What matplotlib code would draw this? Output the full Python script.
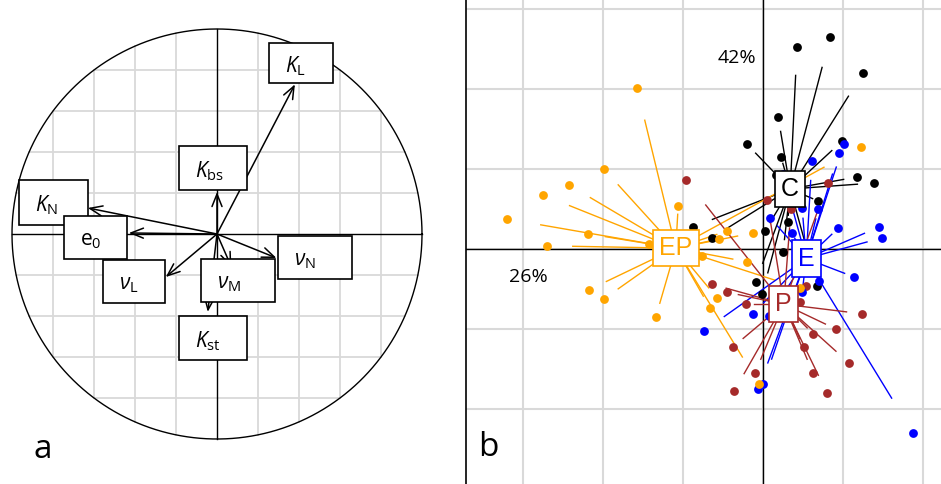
import matplotlib.pyplot as plt
import numpy as np
from matplotlib.patches import Rectangle

plt.rcParams['font.family'] = ['Open Sans', 'DejaVu Sans']
plt.rcParams['mathtext.fontset'] = 'custom'
plt.rcParams['mathtext.rm'] = 'Open Sans'
plt.rcParams['mathtext.it'] = 'Open Sans:italic'

# --- panel a: correlation circle ---
var_labels = [r'$K_\mathrm{L}$', r'$K_\mathrm{bs}$', r'$K_\mathrm{N}$', r'$\mathrm{e}_0$',
              r'$\nu_\mathrm{L}$', r'$\nu_\mathrm{N}$', r'$\nu_\mathrm{M}$', r'$K_\mathrm{st}$']
var_x = [0.38, 0.0, -0.63, -0.43, -0.25, 0.29, 0.07, -0.045]
var_y = [0.73, 0.205, 0.127, 0.005, -0.21, -0.117, -0.16, -0.38]

# label boxes (centre, size in px)
lab_x = [0.410, -0.020, -0.798, -0.593, -0.405, 0.478, 0.102, -0.020]
lab_y = [0.834, 0.322, 0.154, -0.017, -0.232, -0.115, -0.227, -0.507]
box_w = [64, 68, 69, 63, 62, 74, 74, 68]
box_h = [40, 44, 45, 43, 43, 43, 43, 44]

# --- panel b: factorial map with class stars ---
groups = ['C', 'EP', 'E', 'P']
group_cols = ['black', 'orange', 'blue', 'brown']
centre_x = [0.34, -1.09, 0.54, 0.26]
centre_y = [0.75, 0.01, -0.12, -0.69]

c_x = [0.425, 0.838, 1.25, 0.19, -0.2, 0.225, 0.99, 1.175, 1.39, 0.16,
       0.69, 0.31, 0.025, -0.875, -0.64, 0.25, -0.09, -0.01, 0.675]
c_y = [2.525, 2.65, 2.2, 1.65, 1.31, 1.15, 1.35, 0.9, 0.825, 0.925,
       0.6, 0.34, 0.225, 0.275, 0.14, -0.04, -0.41, -0.56, -0.46]
ep_x = [-1.575, -1.99, -2.425, -2.75, -3.2, -2.19, -2.7, -1.425, -2.175, -1.99, -1.34,
        -1.06, -0.55, -0.45, -0.125, 1.225, -0.76, -0.2, -0.575, -0.66, 0.46, -0.05]
ep_y = [2.01, 1.0, 0.8, 0.675, 0.375, 0.19, 0.04, 0.06, -0.51, -0.625, -0.85,
        0.54, 0.125, 0.225, 0.2, 1.275, -0.09, -0.16, -0.61, -0.74, -0.49, -1.69]
e_x = [1.01, 0.95, 0.61, 0.25, 0.09, 0.49, 0.69, 0.94, 1.45, 1.49,
       0.36, 1.14, 0.7, -0.125, -0.74, 0.49, 0.075, -0.06, 0.0, 1.875]
e_y = [1.31, 1.2, 1.1, 0.94, 0.39, 0.51, 0.5, 0.26, 0.275, 0.14,
       0.2, -0.35, -0.4, -0.81, -1.025, -0.54, -0.84, -1.75, -1.69, -2.3]
p_x = [-0.96, 0.81, 0.05, 0.35, -0.64, -0.45, -0.21, 0.54, 0.46, 1.24,
       0.91, 0.625, 0.51, -0.375, 1.075, 0.625, -0.1, -0.36, 0.8]
p_y = [0.86, 0.825, 0.61, 0.5, -0.44, -0.54, -0.69, -0.46, -0.66, -0.81,
       -1.0, -1.06, -1.225, -1.225, -1.425, -1.55, -1.55, -1.775, -1.8]

pts_x = [c_x, ep_x, e_x, p_x]
pts_y = [c_y, ep_y, e_y, p_y]
cstar = 0.8

fig = plt.figure(figsize=(9.41, 4.84), dpi=100)

# panel a axes: 205 px per unit, origin at (217, 234) px
sc = 205.0
ax1 = fig.add_axes([0, 0, 440 / 941, 1])
ax1.set_xlim(-217 / sc, (440 - 217) / sc)
ax1.set_ylim(-(484 - 234) / sc, 234 / sc)
ax1.axis('off')

for g in np.arange(-0.8, 0.81, 0.2):
    if abs(g) < 1e-9:
        continue
    h = np.sqrt(1 - g ** 2)
    ax1.plot([g, g], [-h, h], color='#d9d9d9', lw=1.3, zorder=1)
    ax1.plot([-h, h], [g, g], color='#d9d9d9', lw=1.3, zorder=1)
t = np.linspace(0, 2 * np.pi, 400)
ax1.plot(np.cos(t), np.sin(t), color='black', lw=1.0, zorder=2)
ax1.plot([-1, 1], [0, 0], color='black', lw=1.0, zorder=2)
ax1.plot([0, 0], [-1, 1], color='black', lw=1.0, zorder=2)

for x, y in zip(var_x, var_y):
    ax1.annotate('', xy=(x, y), xytext=(0, 0),
                 arrowprops=dict(arrowstyle='->,head_length=0.45,head_width=0.18',
                                 color='black', lw=1.1, shrinkA=0, shrinkB=0,
                                 mutation_scale=20), zorder=3)

for lab, x, y, w, h in zip(var_labels, lab_x, lab_y, box_w, box_h):
    ax1.add_patch(Rectangle((x - w / 2 / sc, y - h / 2 / sc), w / sc, h / sc,
                            fc='white', ec='black', lw=1.2, zorder=4))
    ax1.annotate(lab, xy=(x, y), xytext=(-w / 2 + 16, -3), textcoords='offset pixels',
                 ha='left', va='center', fontsize=15, zorder=5)

fig.text(42.5 / 941, 1 - 449 / 484, 'a', fontsize=24, ha='center', va='center')

# panel b axes: 80 px per unit, origin at (763, 249) px
ax2 = fig.add_axes([466 / 941, 0, 475 / 941, 1])
ax2.set_xlim(-297 / 80, 178 / 80)
ax2.set_ylim(-235 / 80, 249 / 80)
ax2.set_xticks([])
ax2.set_yticks([])
for s in ['top', 'right', 'bottom']:
    ax2.spines[s].set_visible(False)
ax2.spines['left'].set_linewidth(1.2)

for g in range(-3, 3):
    ax2.axvline(g, color='#d9d9d9', lw=1.5, zorder=0)
for g in range(-2, 4):
    ax2.axhline(g, color='#d9d9d9', lw=1.5, zorder=0)
ax2.axhline(0, color='black', lw=1.0, zorder=1)
ax2.axvline(0, color='black', lw=1.0, zorder=1)

for xs, ys, cx, cy, col in zip(pts_x, pts_y, centre_x, centre_y, group_cols):
    for x, y in zip(xs, ys):
        ax2.plot([cx, cx + cstar * (x - cx)], [cy, cy + cstar * (y - cy)],
                 color=col, lw=1.0, zorder=2)

for i in [0, 3, 2, 1]:
    ax2.scatter(pts_x[i], pts_y[i], s=40, color=group_cols[i], linewidths=0, zorder=3)

for name, cx, cy, col in zip(groups, centre_x, centre_y, group_cols):
    ax2.text(cx, cy, name, color=col, fontsize=18, family='Liberation Sans',
             ha='center', va='center', zorder=5,
             bbox=dict(boxstyle='square,pad=0.25', fc='white', ec=col, lw=1.2))

ax2.text(-0.33, 2.39, '42%', fontsize=14, ha='center', va='center')
ax2.text(-2.93, -0.35, '26%', fontsize=14, ha='center', va='center')
fig.text(488.5 / 941, 1 - 447 / 484, 'b', fontsize=24, ha='center', va='center')

fig.savefig('out.png', dpi=100, facecolor='white')
